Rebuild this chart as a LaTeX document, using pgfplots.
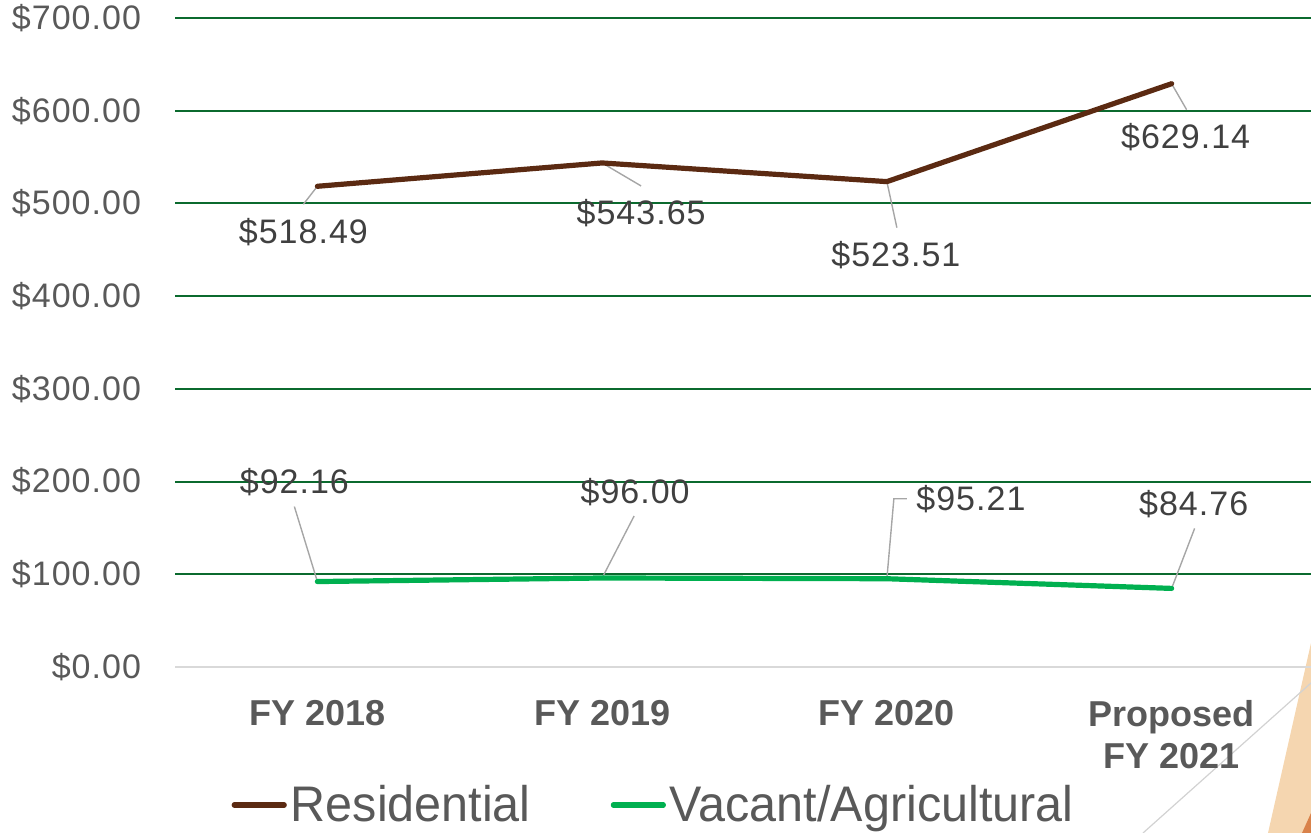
\documentclass[border=0pt]{standalone}
\usepackage{pgfplots}
\pgfplotsset{compat=1.18}
\usepackage{pgfplotstable}
\usepackage{fontspec}
\setmainfont{Liberation Sans}[LetterSpace=3]
\newfontfamily\xfont{Liberation Sans}
\newfontfamily\legfont{Liberation Sans}[FakeStretch=0.97]
\definecolor{resbrown}{HTML}{5B2A12}
\definecolor{vacgreen}{HTML}{00B050}
\definecolor{gridgreen}{HTML}{0B6A2E}
\definecolor{ticktxt}{HTML}{595959}
\definecolor{labtxt}{HTML}{404040}
\definecolor{leader}{HTML}{A6A6A6}
\definecolor{peach}{HTML}{F5D6B0}
\definecolor{darkorange}{HTML}{D9824A}

\pgfplotstableread{
x y dx dy
0 518.49 -7 -23
1 543.65 19.5 -25
2 523.51 4.5 -36.5
3 629.14 7 -26.5
}\res
\pgfplotstableread{
x y dx dy
0 92.16 -11.5 49.5
1 96.00 16.5 43
2 95.21 42 40
3 84.76 11 42
}\vac

\begin{document}
\begin{tikzpicture}
\useasboundingbox (0,0) rectangle (655.5pt,416.5pt);
% slide decoration
\fill[peach] (655.5pt,95pt) -- (634pt,0pt) -- (655.5pt,0pt) -- cycle;
\fill[darkorange] (655.5pt,10pt) -- (651pt,0pt) -- (655.5pt,0pt) -- cycle;
\draw[gray!35, line width=0.6pt] (655.5pt,75pt) -- (571.5pt,0pt);
\begin{axis}[
  at={(87.5pt,83pt)}, anchor=south west,
  scale only axis,
  width=569.5pt, height=324.5pt,
  xmin=-0.5, xmax=3.5,
  ymin=0, ymax=700,
  clip=false,
  axis line style={draw=none},
  tick style={draw=none},
  xtick={0,1,2,3},
  xticklabels={FY 2018, FY 2019, FY 2020, {Proposed\\FY 2021}},
  x tick label style={font=\xfont\fontsize{18pt}{21pt}\selectfont\bfseries, text=ticktxt, align=center, anchor=north, yshift=-13pt},
  ytick={100,200,...,700},
  yticklabels={\$100.00,\$200.00,\$300.00,\$400.00,\$500.00,\$600.00,\$700.00},
  extra y ticks={0},
  extra y tick labels={\$0.00},
  extra y tick style={grid style={draw=black!15, line width=1pt}},
  y tick label style={font=\fontsize{17pt}{20pt}\selectfont, text=ticktxt, anchor=east, xshift=-13.5pt},
  ymajorgrids,
  grid style={draw=gridgreen, line width=1pt},
  legend columns=2,
  legend style={at={(0.421,-0.2126)}, anchor=center, draw=none, fill=none,
    font=\legfont\fontsize{25pt}{28pt}\selectfont, text=ticktxt,
    /tikz/every even column/.append style={column sep=38pt}},
  legend image code/.code={\draw[#1, line width=2.6pt, line cap=round] (0pt,0pt) -- (25pt,0pt);},
  every node near coord/.append style={font=\fontsize{17pt}{20pt}\selectfont, text=labtxt, anchor=center, xshift=\dx pt, yshift=\dy pt},
  nodes near coords={\$\pgfmathprintnumber[fixed, fixed zerofill, precision=2]{\pgfplotspointmeta}},
  /pgf/number format/assume math mode=true,
  point meta=y,
]
% leader lines
\draw[leader, line width=0.7pt] (axis cs:0,518.49) -- ++(-7pt,-9pt);
\draw[leader, line width=0.7pt] (axis cs:1,543.65) -- ++(19.5pt,-11.5pt);
\draw[leader, line width=0.7pt] (axis cs:2,523.51) -- ++(5pt,-23pt);
\draw[leader, line width=0.7pt] (axis cs:3,629.14) -- ++(7.5pt,-13pt);
\draw[leader, line width=0.7pt] (axis cs:0,92.16) -- ++(-11.5pt,37.5pt);
\draw[leader, line width=0.7pt] (axis cs:1,96.00) -- ++(16pt,31pt);
\draw[leader, line width=0.7pt] (axis cs:2,95.21) -- ++(3.5pt,40pt) -- ++(6.5pt,0pt);
\draw[leader, line width=0.7pt] (axis cs:3,84.76) -- ++(11.5pt,30pt);
\addplot[resbrown, line width=2.6pt, line cap=round, line join=round,
  visualization depends on={\thisrow{dx}\as\dx},
  visualization depends on={\thisrow{dy}\as\dy}] table[x=x,y=y] {\res};
\addlegendentry{Residential}
\addplot[vacgreen, line width=2.6pt, line cap=round, line join=round,
  visualization depends on={\thisrow{dx}\as\dx},
  visualization depends on={\thisrow{dy}\as\dy}] table[x=x,y=y] {\vac};
\addlegendentry{Vacant/Agricultural}
\end{axis}
\end{tikzpicture}
\end{document}
